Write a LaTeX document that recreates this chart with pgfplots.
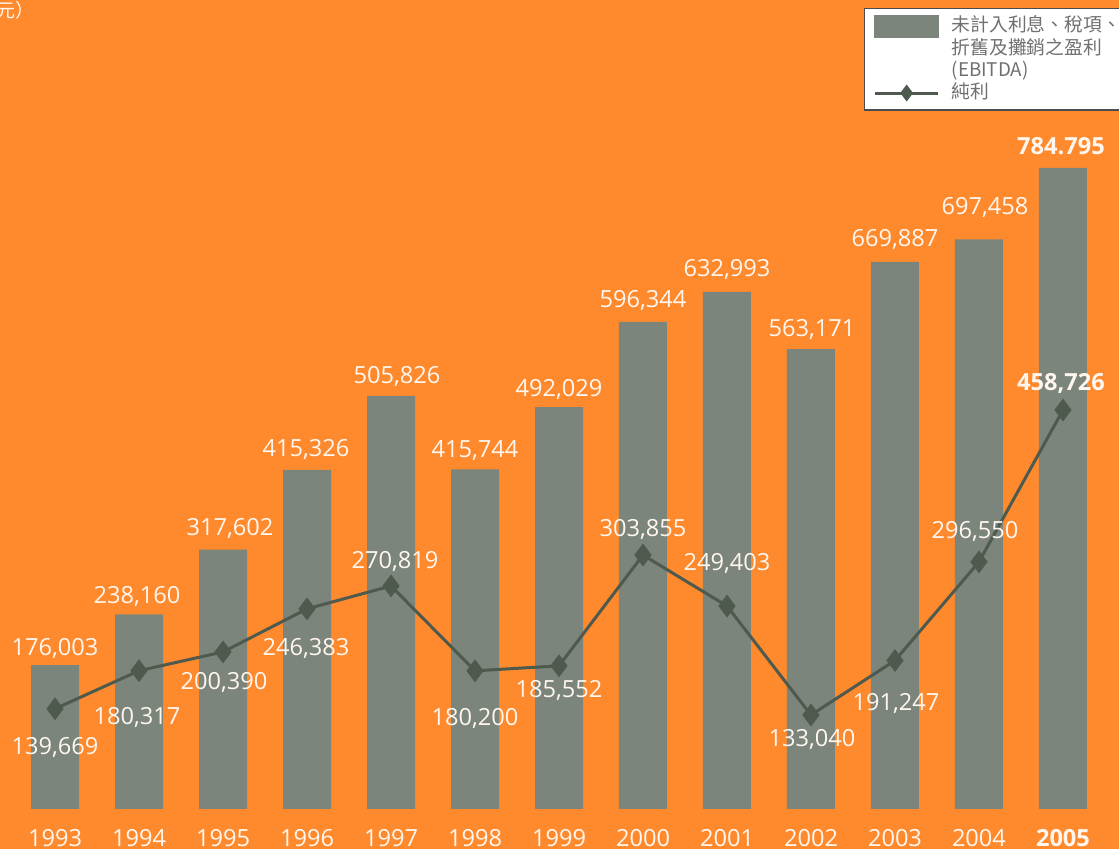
\documentclass[border=0pt]{standalone}
\usepackage{pgfplots}
\pgfplotsset{compat=1.18}
\usepackage{pgfplotstable}
\usepackage{fontspec}
\setmainfont{Open Sans}
\newfontfamily\cjk{Noto Sans CJK TC}
\definecolor{bg}{HTML}{FF8A2E}
\definecolor{barc}{HTML}{7B857B}
\definecolor{linec}{HTML}{4E5A4E}
\definecolor{lab}{HTML}{FFF7EF}
\definecolor{legtext}{HTML}{707070}

\pgfplotstableread{
x y lab dx dy
1993 176003 176,003 0 8.5
1994 238160 238,160 -1 9.25
1995 317602 317,602 3.5 10.8
1996 415326 415,326 -0.5 10
1997 505826 505,826 3 9.5
1998 415744 415,744 0 9.25
1999 492029 492,029 0 9
2000 596344 596,344 0 10.5
2001 632993 632,993 0 11
2002 563171 563,171 0.5 10
2003 669887 669,887 0 11
2004 697458 697,458 3 16
2005 784795 {\textbf{784.795}} -1 11
}\ebitda

\pgfplotstableread{
x y lab dx dy
1993 139669 139,669 0 -19.5
1994 180317 180,317 -1 -23.5
1995 200390 200,390 0.5 -15.5
1996 246383 246,383 -0.5 -20
1997 270819 270,819 2 12.5
1998 180200 180,200 0 -24
1999 185552 185,552 0 -12.5
2000 303855 303,855 0 13
2001 249403 249,403 0 21.5
2002 133040 133,040 0.5 -12
2003 191247 191,247 0.5 -21.5
2004 296550 296,550 -2 15
2005 458726 {\textbf{458,726}} -1 13.5
}\netprofit

\pgfplotsset{
  base/.style={
    at={(0pt,0pt)}, anchor=south west, scale only axis,
    width=559.5pt, height=424.5pt,
    xmin=1992.345, xmax=2005.667,
    clip=false,
    axis line style={draw=none},
    tick style={draw=none},
    ytick=\empty,
  },
  netleg/.style={legend image code/.code={\draw[mark repeat=2,mark phase=2,##1,mark size=3pt] plot coordinates {(0pt,0pt)(15.75pt,0pt)(31.5pt,0pt)};}},
  barleg/.style={legend image code/.code={\fill[barc] (0pt,-5.5pt) rectangle (31.5pt,5.5pt);}},
}

\begin{document}
\begin{tikzpicture}
\useasboundingbox (0,0) rectangle (559.5pt,424.5pt);
\clip (0,0) rectangle (559.5pt,424.5pt);
\fill[bg] (0,0) rectangle (559.5pt,424.5pt);
\node[anchor=east, inner sep=0pt, text=lab, font=\cjk\fontsize{9.5}{10}\selectfont] at (17.5pt,419.5pt) {（千港元）};

\begin{axis}[base,
  ymin=-48973, ymax=990480,
  ybar, bar width=24pt,
  xtick={1993,1994,1995,1996,1997,1998,1999,2000,2001,2002,2003,2004,2005},
  xticklabels={1993,1994,1995,1996,1997,1998,1999,2000,2001,2002,2003,2004,\textbf{2005}},
  xticklabel style={anchor=base, yshift=5.75pt, text=lab, font=\fontsize{11.8}{14}\selectfont},
]
\addplot[fill=barc, draw=none,
  point meta=explicit symbolic,
  visualization depends on={\thisrow{dx} \as \dx},
  visualization depends on={\thisrow{dy} \as \dy},
  nodes near coords={\pgfplotspointmeta},
  nodes near coords align={center},
  nodes near coords style={anchor=center, inner sep=0pt, xshift=\dx pt, yshift=\dy pt, text=lab, font=\fontsize{11.8}{14}\selectfont},
] table[x=x, y=y, meta=lab] {\ebitda};
\end{axis}

\begin{axis}[base,
  ymin=-10037, ymax=896530,
  xtick=\empty,
  legend style={at={(0.7721,0.9906)}, anchor=north west,
    fill=white, draw=black!70, line width=0.7pt,
    font=\cjk\fontsize{9.4}{11}\selectfont, text=legtext,
    nodes={inner sep=0pt, text height=8pt, text depth=3pt},
    cells={anchor=west},
    inner xsep=4.5pt, inner ysep=3pt, row sep=0pt,
    /tikz/every odd column/.append style={column sep=6pt}},
  legend cell align=left,
]
\addlegendimage{barleg}
\addlegendentry{未計入利息、稅項、}
\addlegendimage{empty legend}
\addlegendentry{折舊及攤銷之盈利}
\addlegendimage{empty legend}
\addlegendentry{(EBITDA)}
\addplot[linec, line width=1.5pt, mark=diamond*, mark size=4.5pt,
  mark options={solid, fill=linec},
  netleg,
  point meta=explicit symbolic,
  visualization depends on={\thisrow{dx} \as \dx},
  visualization depends on={\thisrow{dy} \as \dy},
  nodes near coords={\pgfplotspointmeta},
  nodes near coords align={center},
  nodes near coords style={anchor=center, inner sep=0pt, xshift=\dx pt, yshift=\dy pt, text=lab, font=\fontsize{11.8}{14}\selectfont},
] table[x=x, y=y, meta=lab] {\netprofit};
\addlegendentry{純利}
\end{axis}
\end{tikzpicture}
\end{document}
